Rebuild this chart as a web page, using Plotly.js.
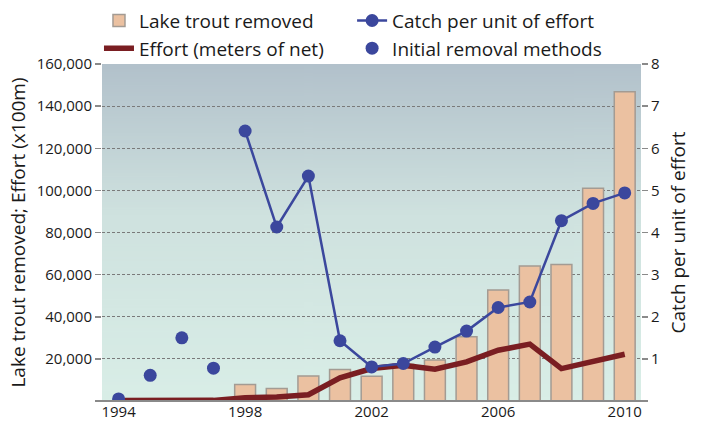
<!DOCTYPE html>
<html><head><meta charset="utf-8">
<script src="https://cdn.plot.ly/plotly-3.0.1.min.js"></script>
<style>html,body{margin:0;padding:0;background:#fff}#chart{width:703px;height:423px}</style>
</head><body><div id="chart"></div>
<script>
// ---- data ----
const barYears = [1998,1999,2000,2001,2002,2003,2004,2005,2006,2007,2008,2009,2010];
const troutRemoved = [7800,5900,11900,14950,11750,17500,19500,30500,52700,64100,64800,101000,146800];

const effortYears = [1994,1995,1996,1997,1998,1999,2000,2001,2002,2003,2004,2005,2006,2007,2008,2009,2010];
const effort = [200,300,400,300,1500,1900,3000,11000,15400,17000,15100,18600,24100,27000,15400,18600,22200];

const cpueYears = [1998,1999,2000,2001,2002,2003,2004,2005,2006,2007,2008,2009,2010];
const cpue = [6.41,4.13,5.34,1.43,0.81,0.89,1.28,1.66,2.22,2.35,4.28,4.69,4.94];

const initialYears = [1994,1995,1996,1997];
const initialCpue = [0.05,0.61,1.5,0.78];

const leftTicks = [0,20000,40000,60000,80000,100000,120000,140000,160000];
const leftTickText = ['','20,000','40,000','60,000','80,000','100,000','120,000','140,000','160,000'];
const rightTicks = [1,2,3,4,5,6,7,8];
const xTicks = [1994,1998,2002,2006,2010];

// ---- gradient background ----
const cv = document.createElement('canvas');
cv.width = 4; cv.height = 400;
const ctx = cv.getContext('2d');
const g = ctx.createLinearGradient(0,0,0,400);
g.addColorStop(0,'#b2c1cb');
g.addColorStop(0.45,'#cfe2df');
g.addColorStop(1,'#d9eee7');
ctx.fillStyle = g; ctx.fillRect(0,0,4,400);
const bgUrl = cv.toDataURL();

const FONT = '"Open Sans", "Noto Sans", sans-serif';
const BLUE = '#3b479d';
const AXISGRAY = '#8a8a8a';

const traces = [
  {type:'bar', x:barYears, y:troutRemoved, name:'Lake trout removed', width:0.66,
   marker:{color:'#ebc1a1', line:{color:'#a39b93', width:1.5}},
   legend:'legend', legendgroup:'a', yaxis:'y'},
  {type:'scatter', mode:'lines', x:effortYears, y:effort, name:'Effort (meters of net)',
   line:{color:'#7a1e22', width:5.5}, legend:'legend', legendgroup:'b', yaxis:'y'},
  {type:'scatter', mode:'lines+markers', x:cpueYears, y:cpue, name:'Catch per unit of effort',
   line:{color:BLUE, width:2.5}, marker:{color:BLUE, size:13}, legend:'legend2', legendgroup:'c', yaxis:'y2'},
  {type:'scatter', mode:'markers', x:initialYears, y:initialCpue, name:'Initial removal methods',
   marker:{color:BLUE, size:13}, legend:'legend2', legendgroup:'d', yaxis:'y2'}
];

const layout = {
  width:703, height:423,
  margin:{l:102, r:62, t:64, b:22, autoexpand:false},
  paper_bgcolor:'#ffffff', plot_bgcolor:'rgba(0,0,0,0)',
  font:{family:FONT, color:'#1a1a1a', size:15},
  showlegend:true,
  images:[{source:bgUrl, xref:'paper', yref:'paper', x:0, y:1, sizex:1, sizey:1,
           sizing:'stretch', layer:'below', xanchor:'left', yanchor:'top'}],
  shapes:[{type:'line', xref:'paper', yref:'paper', x0:-0.0093, x1:1.013, y0:0, y1:0,
           line:{color:AXISGRAY, width:2}, layer:'above'}],
  xaxis:{range:[1993.476,2010.515], tickvals:xTicks, ticks:'', showgrid:false, zeroline:false,
         showline:false, tickfont:{size:15}},
  yaxis:{range:[0,160000], tickvals:leftTicks, ticktext:leftTickText, ticks:'outside', ticklen:6,
         tickcolor:AXISGRAY, tickwidth:1.5, showgrid:true, gridcolor:'#7a7a7a', griddash:'3px,2px',
         gridwidth:1, zeroline:false, showline:false, tickfont:{size:15},
         title:{text:'Lake trout removed; Effort (x100m)', font:{size:19}, standoff:6}},
  yaxis2:{range:[0,8], overlaying:'y', side:'right', tickvals:rightTicks, ticks:'outside', ticklen:6,
          tickcolor:AXISGRAY, tickwidth:1.5, showgrid:false, zeroline:false, showline:false,
          tickfont:{size:15},
          title:{text:'Catch per unit of effort', font:{size:19}, standoff:12}},
  legend:{x:-0.0056, xanchor:'left', y:1.185, yanchor:'top', bgcolor:'rgba(0,0,0,0)',
          font:{size:19}, tracegroupgap:0, traceorder:'normal'},
  legend2:{x:0.464, xanchor:'left', y:1.185, yanchor:'top', bgcolor:'rgba(0,0,0,0)',
          font:{size:19}, tracegroupgap:0, traceorder:'normal'}
};

Plotly.newPlot('chart', traces, layout, {displayModeBar:false, staticPlot:true});
</script>
</body></html>
